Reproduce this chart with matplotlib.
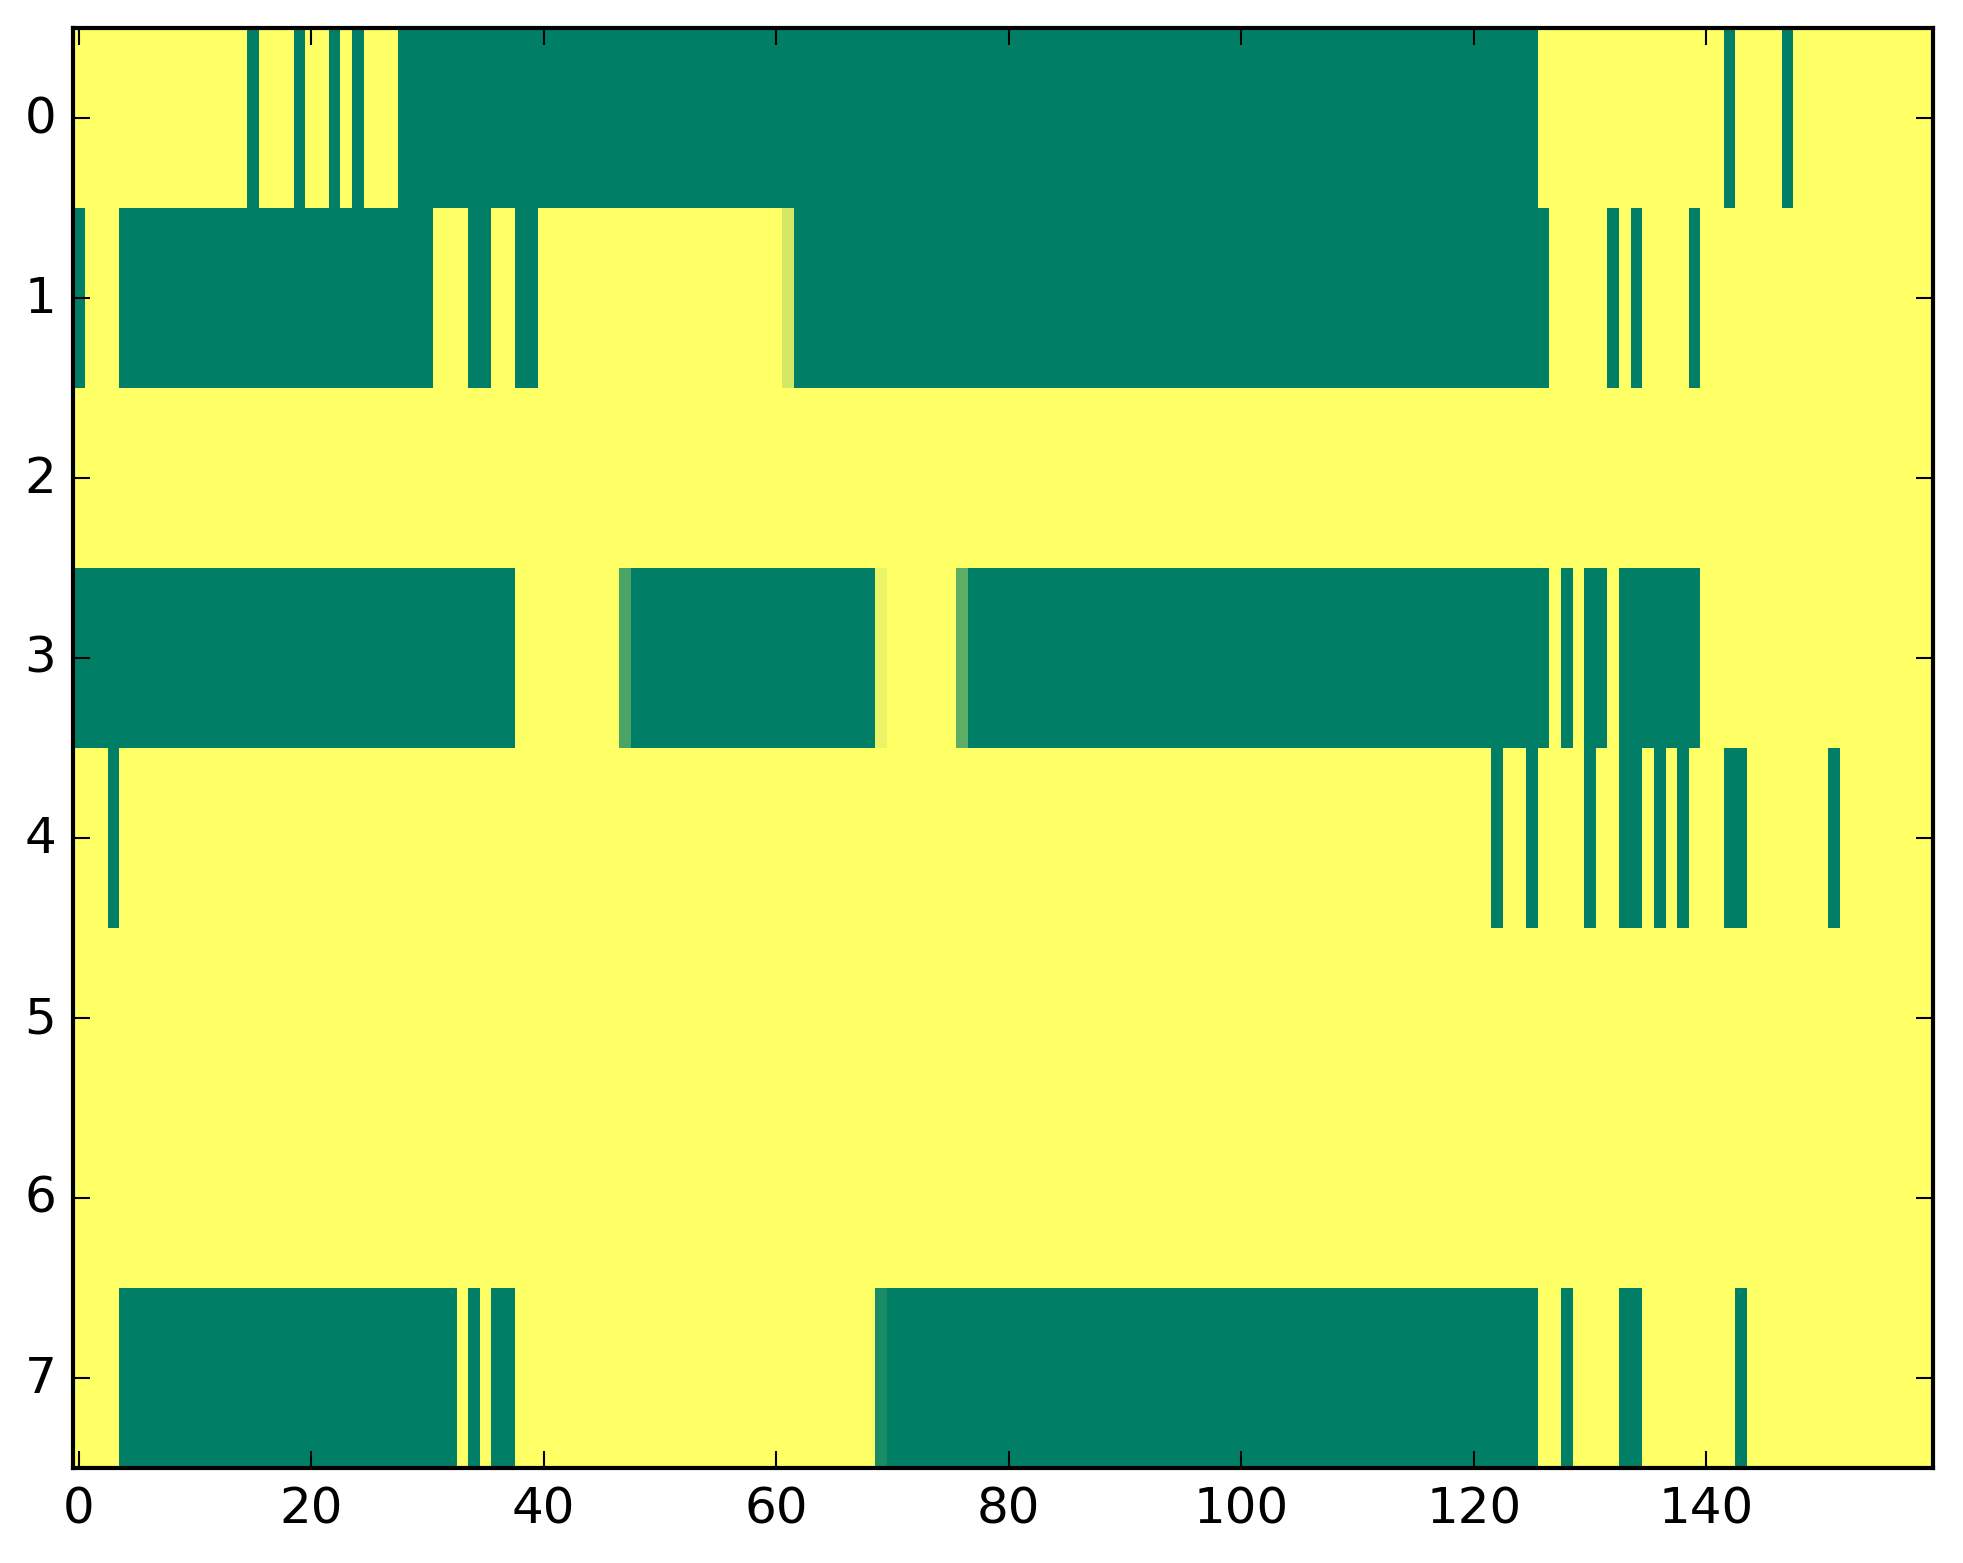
import matplotlib
matplotlib.use('Agg')
import matplotlib.pyplot as plt
import numpy as np

plt.style.use('classic')

# 8 rows x 160 columns, values in [0, 1] (0 = green, 1 = yellow in 'summer')
row0 = [1, 1, 1, 1, 1, 1, 1, 1, 1, 1, 1, 1, 1, 1, 1, 0, 1, 1, 1, 0,
        1, 1, 0, 1, 0, 1, 1, 1, 0, 0, 0, 0, 0, 0, 0, 0, 0, 0, 0, 0,
        0, 0, 0, 0, 0, 0, 0, 0, 0, 0, 0, 0, 0, 0, 0, 0, 0, 0, 0, 0,
        0, 0, 0, 0, 0, 0, 0, 0, 0, 0, 0, 0, 0, 0, 0, 0, 0, 0, 0, 0,
        0, 0, 0, 0, 0, 0, 0, 0, 0, 0, 0, 0, 0, 0, 0, 0, 0, 0, 0, 0,
        0, 0, 0, 0, 0, 0, 0, 0, 0, 0, 0, 0, 0, 0, 0, 0, 0, 0, 0, 0,
        0, 0, 0, 0, 0, 0, 1, 1, 1, 1, 1, 1, 1, 1, 1, 1, 1, 1, 1, 1,
        1, 1, 0, 1, 1, 1, 1, 0, 1, 1, 1, 1, 1, 1, 1, 1, 1, 1, 1, 1]

row1 = [0, 1, 1, 1, 0, 0, 0, 0, 0, 0, 0, 0, 0, 0, 0, 0, 0, 0, 0, 0,
        0, 0, 0, 0, 0, 0, 0, 0, 0, 0, 0, 1, 1, 1, 0, 0, 1, 1, 0, 0,
        1, 1, 1, 1, 1, 1, 1, 1, 1, 1, 1, 1, 1, 1, 1, 1, 1, 1, 1, 1,
        1, 0.83, 0, 0, 0, 0, 0, 0, 0, 0, 0, 0, 0, 0, 0, 0, 0, 0, 0, 0,
        0, 0, 0, 0, 0, 0, 0, 0, 0, 0, 0, 0, 0, 0, 0, 0, 0, 0, 0, 0,
        0, 0, 0, 0, 0, 0, 0, 0, 0, 0, 0, 0, 0, 0, 0, 0, 0, 0, 0, 0,
        0, 0, 0, 0, 0, 0, 0, 1, 1, 1, 1, 1, 0, 1, 0, 1, 1, 1, 1, 0,
        1, 1, 1, 1, 1, 1, 1, 1, 1, 1, 1, 1, 1, 1, 1, 1, 1, 1, 1, 1]

row2 = [1, 1, 1, 1, 1, 1, 1, 1, 1, 1, 1, 1, 1, 1, 1, 1, 1, 1, 1, 1,
        1, 1, 1, 1, 1, 1, 1, 1, 1, 1, 1, 1, 1, 1, 1, 1, 1, 1, 1, 1,
        1, 1, 1, 1, 1, 1, 1, 1, 1, 1, 1, 1, 1, 1, 1, 1, 1, 1, 1, 1,
        1, 1, 1, 1, 1, 1, 1, 1, 1, 1, 1, 1, 1, 1, 1, 1, 1, 1, 1, 1,
        1, 1, 1, 1, 1, 1, 1, 1, 1, 1, 1, 1, 1, 1, 1, 1, 1, 1, 1, 1,
        1, 1, 1, 1, 1, 1, 1, 1, 1, 1, 1, 1, 1, 1, 1, 1, 1, 1, 1, 1,
        1, 1, 1, 1, 1, 1, 1, 1, 1, 1, 1, 1, 1, 1, 1, 1, 1, 1, 1, 1,
        1, 1, 1, 1, 1, 1, 1, 1, 1, 1, 1, 1, 1, 1, 1, 1, 1, 1, 1, 1]

row3 = [0, 0, 0, 0, 0, 0, 0, 0, 0, 0, 0, 0, 0, 0, 0, 0, 0, 0, 0, 0,
        0, 0, 0, 0, 0, 0, 0, 0, 0, 0, 0, 0, 0, 0, 0, 0, 0, 0, 1, 1,
        1, 1, 1, 1, 1, 1, 1, 0.29, 0, 0, 0, 0, 0, 0, 0, 0, 0, 0, 0, 0,
        0, 0, 0, 0, 0, 0, 0, 0, 0, 0.92, 1, 1, 1, 1, 1, 1, 0.37, 0, 0, 0,
        0, 0, 0, 0, 0, 0, 0, 0, 0, 0, 0, 0, 0, 0, 0, 0, 0, 0, 0, 0,
        0, 0, 0, 0, 0, 0, 0, 0, 0, 0, 0, 0, 0, 0, 0, 0, 0, 0, 0, 0,
        0, 0, 0, 0, 0, 0, 0, 1, 0, 1, 0, 0, 1, 0, 0, 0, 0, 0, 0, 0,
        1, 1, 1, 1, 1, 1, 1, 1, 1, 1, 1, 1, 1, 1, 1, 1, 1, 1, 1, 1]

row4 = [1, 1, 1, 0, 1, 1, 1, 1, 1, 1, 1, 1, 1, 1, 1, 1, 1, 1, 1, 1,
        1, 1, 1, 1, 1, 1, 1, 1, 1, 1, 1, 1, 1, 1, 1, 1, 1, 1, 1, 1,
        1, 1, 1, 1, 1, 1, 1, 1, 1, 1, 1, 1, 1, 1, 1, 1, 1, 1, 1, 1,
        1, 1, 1, 1, 1, 1, 1, 1, 1, 1, 1, 1, 1, 1, 1, 1, 1, 1, 1, 1,
        1, 1, 1, 1, 1, 1, 1, 1, 1, 1, 1, 1, 1, 1, 1, 1, 1, 1, 1, 1,
        1, 1, 1, 1, 1, 1, 1, 1, 1, 1, 1, 1, 1, 1, 1, 1, 1, 1, 1, 1,
        1, 1, 0, 1, 1, 0, 1, 1, 1, 1, 0, 1, 1, 0, 0, 1, 0, 1, 0, 1,
        1, 1, 0, 0, 1, 1, 1, 1, 1, 1, 1, 0, 1, 1, 1, 1, 1, 1, 1, 1]

row5 = [1, 1, 1, 1, 1, 1, 1, 1, 1, 1, 1, 1, 1, 1, 1, 1, 1, 1, 1, 1,
        1, 1, 1, 1, 1, 1, 1, 1, 1, 1, 1, 1, 1, 1, 1, 1, 1, 1, 1, 1,
        1, 1, 1, 1, 1, 1, 1, 1, 1, 1, 1, 1, 1, 1, 1, 1, 1, 1, 1, 1,
        1, 1, 1, 1, 1, 1, 1, 1, 1, 1, 1, 1, 1, 1, 1, 1, 1, 1, 1, 1,
        1, 1, 1, 1, 1, 1, 1, 1, 1, 1, 1, 1, 1, 1, 1, 1, 1, 1, 1, 1,
        1, 1, 1, 1, 1, 1, 1, 1, 1, 1, 1, 1, 1, 1, 1, 1, 1, 1, 1, 1,
        1, 1, 1, 1, 1, 1, 1, 1, 1, 1, 1, 1, 1, 1, 1, 1, 1, 1, 1, 1,
        1, 1, 1, 1, 1, 1, 1, 1, 1, 1, 1, 1, 1, 1, 1, 1, 1, 1, 1, 1]

row6 = [1, 1, 1, 1, 1, 1, 1, 1, 1, 1, 1, 1, 1, 1, 1, 1, 1, 1, 1, 1,
        1, 1, 1, 1, 1, 1, 1, 1, 1, 1, 1, 1, 1, 1, 1, 1, 1, 1, 1, 1,
        1, 1, 1, 1, 1, 1, 1, 1, 1, 1, 1, 1, 1, 1, 1, 1, 1, 1, 1, 1,
        1, 1, 1, 1, 1, 1, 1, 1, 1, 1, 1, 1, 1, 1, 1, 1, 1, 1, 1, 1,
        1, 1, 1, 1, 1, 1, 1, 1, 1, 1, 1, 1, 1, 1, 1, 1, 1, 1, 1, 1,
        1, 1, 1, 1, 1, 1, 1, 1, 1, 1, 1, 1, 1, 1, 1, 1, 1, 1, 1, 1,
        1, 1, 1, 1, 1, 1, 1, 1, 1, 1, 1, 1, 1, 1, 1, 1, 1, 1, 1, 1,
        1, 1, 1, 1, 1, 1, 1, 1, 1, 1, 1, 1, 1, 1, 1, 1, 1, 1, 1, 1]

row7 = [1, 1, 1, 1, 0, 0, 0, 0, 0, 0, 0, 0, 0, 0, 0, 0, 0, 0, 0, 0,
        0, 0, 0, 0, 0, 0, 0, 0, 0, 0, 0, 0, 0, 1, 0, 1, 0, 0, 1, 1,
        1, 1, 1, 1, 1, 1, 1, 1, 1, 1, 1, 1, 1, 1, 1, 1, 1, 1, 1, 1,
        1, 1, 1, 1, 1, 1, 1, 1, 1, 0.1, 0, 0, 0, 0, 0, 0, 0, 0, 0, 0,
        0, 0, 0, 0, 0, 0, 0, 0, 0, 0, 0, 0, 0, 0, 0, 0, 0, 0, 0, 0,
        0, 0, 0, 0, 0, 0, 0, 0, 0, 0, 0, 0, 0, 0, 0, 0, 0, 0, 0, 0,
        0, 0, 0, 0, 0, 0, 1, 1, 0, 1, 1, 1, 1, 0, 0, 1, 1, 1, 1, 1,
        1, 1, 1, 0, 1, 1, 1, 1, 1, 1, 1, 1, 1, 1, 1, 1, 1, 1, 1, 1]

xticks = [0, 20, 40, 60, 80, 100, 120, 140]
yticks = [0, 1, 2, 3, 4, 5, 6, 7]

rows = [row0, row1, row2, row3, row4, row5, row6, row7]
data = np.array(rows, dtype=float)

W, H = 1963, 1564
fig = plt.figure(figsize=(W / 300, H / 300), dpi=300, facecolor='white')
ax_left, ax_top, ax_w, ax_h = 73, 29, 1860, 1440
ax = fig.add_axes([ax_left / W, 1 - (ax_top + ax_h) / H, ax_w / W, ax_h / H])
ax.imshow(data, cmap='summer', aspect='auto', interpolation='nearest',
          vmin=0, vmax=1)
ax.set_xticks(xticks)
ax.set_yticks(yticks)

fig.savefig('out.png', dpi=300, facecolor='white')
